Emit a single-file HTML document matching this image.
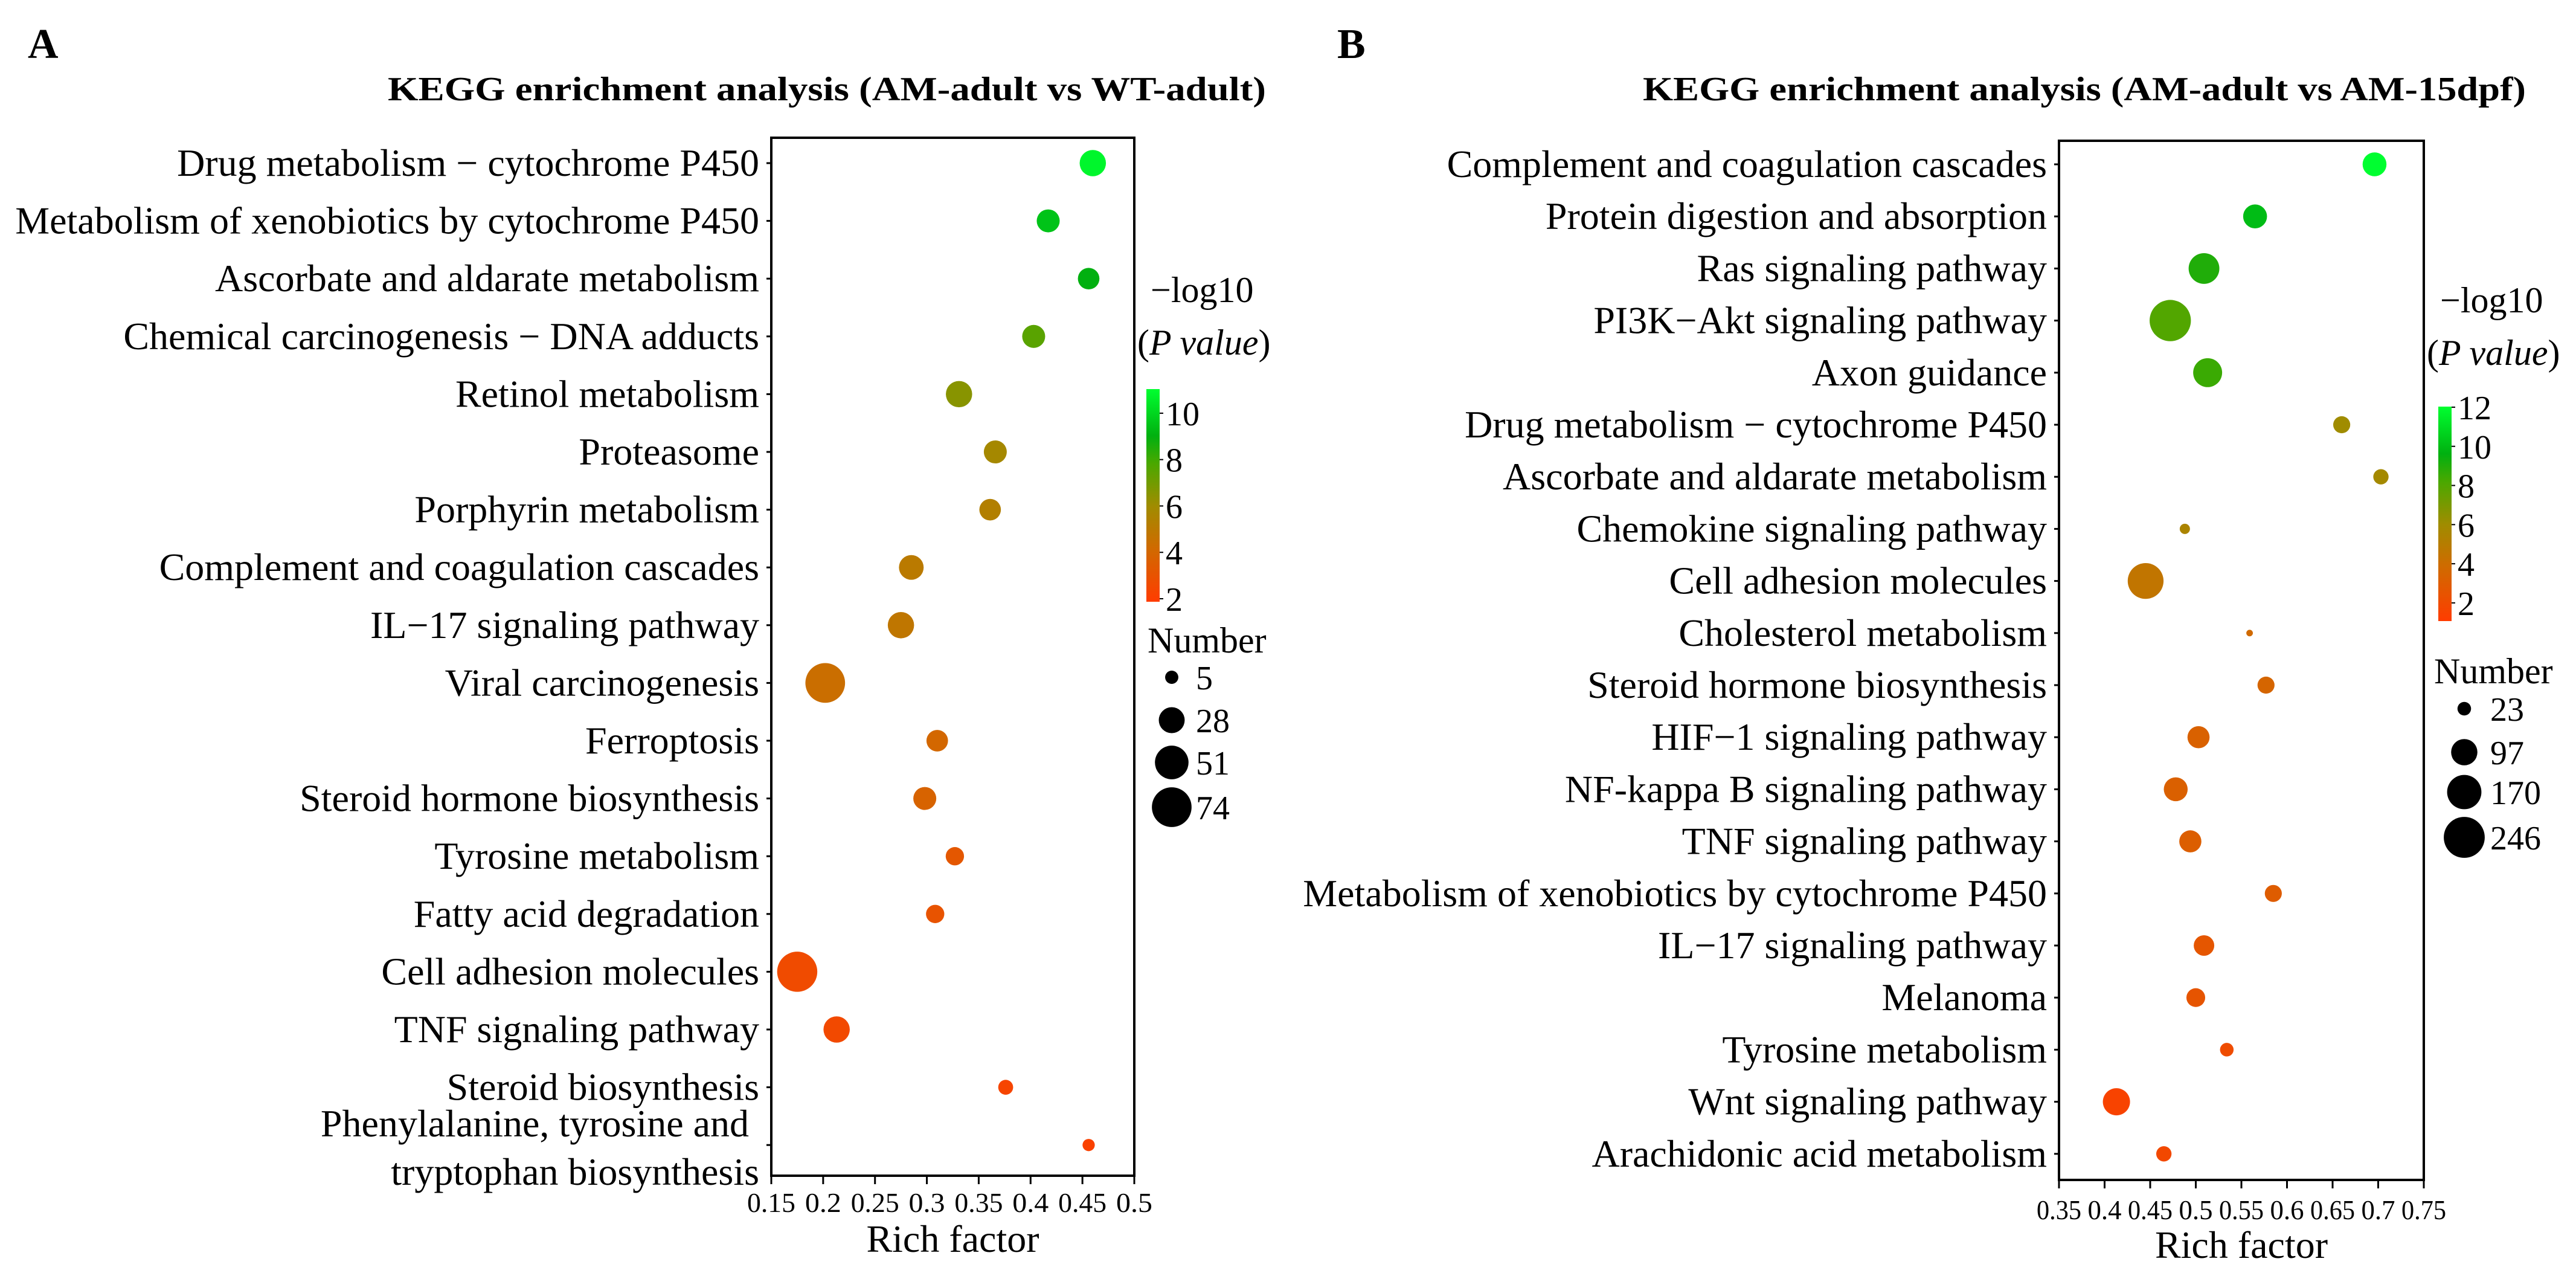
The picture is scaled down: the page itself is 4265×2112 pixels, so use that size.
<!DOCTYPE html>
<html><head><meta charset="utf-8">
<style>
html,body{margin:0;padding:0;background:#fff;}
svg{display:block;font-family:"Liberation Serif","DejaVu Serif",serif;}
</style></head>
<body>
<svg id="fig" xmlns="http://www.w3.org/2000/svg" width="4265" height="2112" viewBox="0 0 4265 2112">
<defs>
<linearGradient id="cmap" x1="0" y1="1" x2="0" y2="0">
<stop offset="0" stop-color="#ff3c00"/>
<stop offset="0.25" stop-color="#d06a00"/>
<stop offset="0.45" stop-color="#a08c00"/>
<stop offset="0.65" stop-color="#4aa800"/>
<stop offset="0.78" stop-color="#00b010"/>
<stop offset="1" stop-color="#00ff30"/>
</linearGradient>
</defs>
</svg>
<script>
// ---------- Panel A data ----------
const catsA = ["Drug metabolism \u2212 cytochrome P450","Metabolism of xenobiotics by cytochrome P450","Ascorbate and aldarate metabolism","Chemical carcinogenesis \u2212 DNA adducts","Retinol metabolism","Proteasome","Porphyrin metabolism","Complement and coagulation cascades","IL\u221217 signaling pathway","Viral carcinogenesis","Ferroptosis","Steroid hormone biosynthesis","Tyrosine metabolism","Fatty acid degradation","Cell adhesion molecules","TNF signaling pathway","Steroid biosynthesis","Phenylalanine, tyrosine and|tryptophan biosynthesis"];
const richA = [0.460,0.417,0.456,0.403,0.331,0.366,0.361,0.285,0.275,0.202,0.310,0.298,0.327,0.308,0.175,0.213,0.376,0.456];
const logpA = [10.8,9.5,9.0,7.5,6.5,5.8,5.3,5.0,4.8,4.4,4.0,3.8,3.2,3.0,2.6,2.5,2.3,2.1];
const numA = [29,21,18,21,29,21,18,25,29,74,18,21,12,12,76,29,7,4];
const ticksA = ["0.15","0.2","0.25","0.3","0.35","0.4","0.45","0.5"];
const cbTicksA = [2,4,6,8,10];
const sizeLegA = [5,28,51,74];

// ---------- Panel B data ----------
const catsB = ["Complement and coagulation cascades","Protein digestion and absorption","Ras signaling pathway","PI3K\u2212Akt signaling pathway","Axon guidance","Drug metabolism \u2212 cytochrome P450","Ascorbate and aldarate metabolism","Chemokine signaling pathway","Cell adhesion molecules","Cholesterol metabolism","Steroid hormone biosynthesis","HIF\u22121 signaling pathway","NF-kappa B signaling pathway","TNF signaling pathway","Metabolism of xenobiotics by cytochrome P450","IL\u221217 signaling pathway","Melanoma","Tyrosine metabolism","Wnt signaling pathway","Arachidonic acid metabolism"];
const richB = [0.696,0.565,0.509,0.472,0.513,0.660,0.703,0.488,0.445,0.559,0.577,0.503,0.478,0.494,0.585,0.509,0.500,0.534,0.413,0.465];
const logpB = [12.0,10.0,9.0,8.0,8.5,6.0,5.8,5.5,4.5,3.8,3.5,3.3,3.2,3.1,3.0,2.6,2.5,2.0,1.5,1.8];
const numB = [79,79,135,250,119,38,30,12,186,4,38,67,79,67,38,57,47,23,104,30];
const ticksB = ["0.35","0.4","0.45","0.5","0.55","0.6","0.65","0.7","0.75"];
const cbTicksB = [2,4,6,8,10,12];
const sizeLegB = [23,97,170,246];

const NS = "http://www.w3.org/2000/svg";
const svg = document.getElementById('fig');
function mk(tag, attrs, parent, text){
  const e = document.createElementNS(NS, tag);
  for (const k in attrs) e.setAttribute(k, attrs[k]);
  if (text !== undefined) e.textContent = text;
  (parent || svg).appendChild(e);
  return e;
}
const stops = [[0,[255,60,0]],[0.25,[208,106,0]],[0.45,[160,140,0]],[0.65,[74,168,0]],[0.78,[0,176,16]],[1,[0,255,48]]];
function cmap(t){
  t = Math.max(0, Math.min(1, t));
  for (let i=1;i<stops.length;i++){
    if (t <= stops[i][0]){
      const a=stops[i-1], b=stops[i], f=(t-a[0])/(b[0]-a[0]);
      const c=a[1].map((v,j)=>Math.round(v+(b[1][j]-v)*f));
      return `rgb(${c[0]},${c[1]},${c[2]})`;
    }
  }
  return 'rgb(0,255,48)';
}

function panel(cfg){
  const g = mk('g', {});
  
  
  const L = mk('text', {x:cfg.letterX, y:96, 'font-size':70, 'font-weight':'bold'}, g, cfg.letter);
  
  
  const T = mk('text', {x:cfg.titleX, y:166, 'font-size':56, 'font-weight':'bold', textLength:cfg.titleW, lengthAdjust:'spacingAndGlyphs'}, g, cfg.title);
  
  
  const {left,right,top,bottom} = cfg;
  const xs = v => left + (v - cfg.xmin)/(cfg.xmax - cfg.xmin)*(right-left);
  const ys = i => cfg.y0 + i*cfg.dy;
  const cs = v => cmap((v - cfg.cmin)/(cfg.cmax - cfg.cmin));
  const rs = n => cfg.rb + cfg.rk*Math.sqrt(Math.max(n,0));
  const box = mk('rect', {x:left, y:top, width:right-left, height:bottom-top, fill:'none', stroke:'#000', 'stroke-width':4}, g);
  
  
  cfg.ticks.forEach((t,i)=>{
    const x = xs(parseFloat(t));
    mk('line', {x1:x, y1:bottom, x2:x, y2:bottom+14, stroke:'#000', 'stroke-width':3}, g);
    const tl = t.length >= 4 ? cfg.tickW4 : cfg.tickW3;
    const tt = mk('text', {x:x, y:cfg.tickY, 'font-size':cfg.tickFs, 'text-anchor':'middle', textLength:tl, lengthAdjust:'spacingAndGlyphs'}, g, t);
    
    
  });
  const xt = mk('text', {x:(left+right)/2, y:cfg.xTitleY, 'font-size':64, 'text-anchor':'middle'}, g, 'Rich factor');
  
  
  cfg.cats.forEach((c,i)=>{
    const y = ys(i);
    mk('line', {x1:left-8, y1:y, x2:left, y2:y, stroke:'#000', 'stroke-width':3}, g);
    const parts = c.split('|');
    if (parts.length === 1){
      const lt = mk('text', {x:left-20, y:y+21, 'font-size':cfg.labFs, 'text-anchor':'end'}, g, c);
      
      
    } else {
      const l1 = mk('text', {x:left-37, y:y-14, 'font-size':cfg.labFs, 'text-anchor':'end'}, g, parts[0]);
      
      
      const l2 = mk('text', {x:left-20, y:y+66, 'font-size':cfg.labFs, 'text-anchor':'end'}, g, parts[1]);
      
      
    }
    const d = mk('circle', {cx:xs(cfg.rich[i]), cy:y, r:rs(cfg.num[i]), fill:cs(cfg.logp[i])}, g);
    
    
  });
  const l1 = mk('text', {x:cfg.legX, y:cfg.legY, 'font-size':60}, g, '\u2212log10');
  
  
  const l2 = mk('text', {x:cfg.legX-22, y:cfg.legY+87, 'font-size':60}, g);
  
  
  mk('tspan', {}, l2, '(');
  mk('tspan', {'font-style':'italic'}, l2, 'P value');
  mk('tspan', {}, l2, ')');
  const cb = mk('rect', {x:cfg.cbX, y:cfg.cbTop, width:22, height:cfg.cbBot-cfg.cbTop, fill:'url(#cmap)'}, g);
  
  
  const cy = v => cfg.cbBot - (v - cfg.cmin)/(cfg.cmax - cfg.cmin)*(cfg.cbBot-cfg.cbTop);
  cfg.cbTicks.forEach(v=>{
    const y = cy(v);
    mk('line', {x1:cfg.cbX+22, y1:y, x2:cfg.cbX+28, y2:y, stroke:'#000', 'stroke-width':2}, g);
    const t = mk('text', {x:cfg.cbX+32, y:y+20, 'font-size':56}, g, String(v));
    
    
  });
  const nt = mk('text', {x:cfg.numX, y:cfg.numY, 'font-size':60}, g, 'Number');
  
  
  cfg.sizeLeg.forEach((n,i)=>{
    const y = cfg.sizeYs[i];
    const c = mk('circle', {cx:cfg.sizeCx, cy:y, r:rs(n), fill:'#000'}, g);
    
    
    const t = mk('text', {x:cfg.sizeTx, y:y+20, 'font-size':56}, g, String(n));
    
    
  });
}

panel({name:'panel-a', letter:'A', letterX:46, title:'KEGG enrichment analysis (AM-adult vs WT-adult)', titleX:642, titleW:1454,
  left:1277, right:1878, top:228, bottom:1946, xmin:0.15, xmax:0.5, y0:270, dy:95.6,
  ticks:ticksA, tickY:2006, tickFs:46, tickW4:80, tickW3:60, xTitleY:2072, labFs:64,
  cats:catsA, rich:richA, logp:logpA, num:numA,
  cmin:1.87, cmax:11.04, rb:3.25, rk:3.44,
  legX:1905, legY:500, cbX:1898, cbTop:644, cbBot:996, cbTicks:cbTicksA,
  numX:1900, numY:1080, sizeLeg:sizeLegA, sizeCx:1940, sizeYs:[1121,1192,1262,1336], sizeTx:1980});

panel({name:'panel-b', letter:'B', letterX:2214, title:'KEGG enrichment analysis (AM-adult vs AM-15dpf)', titleX:2720, titleW:1462,
  left:3409, right:4013, top:233, bottom:1953, xmin:0.35, xmax:0.75, y0:272, dy:86.2,
  ticks:ticksB, tickY:2018, tickFs:46, tickW4:74, tickW3:56, xTitleY:2082, labFs:64,
  cats:catsB, rich:richB, logp:logpB, num:numB,
  cmin:1.07, cmax:12.03, rb:1.28, rk:2.08,
  legX:4040, legY:517, cbX:4037, cbTop:673, cbBot:1028, cbTicks:cbTicksB,
  numX:4030, numY:1131, sizeLeg:sizeLegB, sizeCx:4080, sizeYs:[1173,1245,1311,1386], sizeTx:4123});
</script>
</body></html>
